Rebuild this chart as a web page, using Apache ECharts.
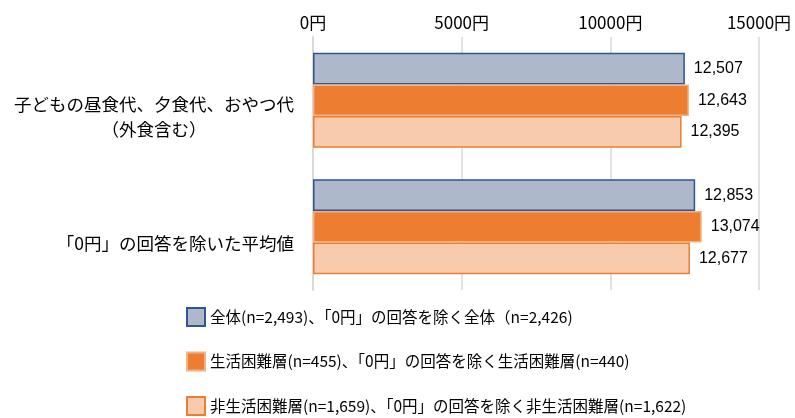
<!DOCTYPE html>
<html>
<head>
<meta charset="utf-8">
<script src="https://cdn.jsdelivr.net/npm/echarts@6/dist/echarts.min.js"></script>
<style>
html,body{margin:0;padding:0;background:#fff;}
#chart{width:795px;height:418px;}
</style>
</head>
<body>
<div id="chart"></div>
<script>
const categories = ['子どもの昼食代、夕食代、おやつ代\n（外食含む）', '「0円」の回答を除いた平均値'];
const seriesNames = [
  '全体(n=2,493)、「0円」の回答を除く全体（n=2,426)',
  '生活困難層(n=455)、「0円」の回答を除く生活困難層(n=440)',
  '非生活困難層(n=1,659)、「0円」の回答を除く非生活困難層(n=1,622)'
];
const allValues = [12507, 12853];
const hardshipValues = [12643, 13074];
const nonHardshipValues = [12395, 12677];
const axisTicks = [0, 5000, 10000, 15000];

const FONT = '"Liberation Sans", "Noto Sans CJK JP", sans-serif';
const CJK = '"Noto Sans CJK JP", sans-serif';
const fmt = v => String(v).replace(/\B(?=(\d{3})+(?!\d))/g, ',');

const fills = ['#ADB9CA', '#ED7D31', '#F8CBAD'];
const borders = ['#2F5597', '#F4B183', '#ED7D31'];
const values = [allValues, hardshipValues, nonHardshipValues];

const chart = echarts.init(document.getElementById('chart'));
chart.setOption({
  animation: false,
  textStyle: {fontFamily: FONT},
  grid: {left: 313, right: 36, top: 37, bottom: 128, containLabel: false},
  legend: {
    orient: 'vertical',
    left: 186,
    top: 306,
    padding: 0,
    itemWidth: 18,
    itemHeight: 18,
    itemGap: 22.5,
    icon: 'rect',
    textStyle: {fontFamily: CJK, fontSize: 15.5, color: '#000', lineHeight: 22},
    data: seriesNames
  },
  xAxis: {
    type: 'value',
    position: 'top',
    min: axisTicks[0],
    max: axisTicks[axisTicks.length - 1],
    interval: 5000,
    axisLine: {show: false},
    axisTick: {show: false},
    axisLabel: {formatter: v => v + '円', fontSize: 17, color: '#000', margin: 6, fontFamily: CJK},
    splitLine: {show: true, lineStyle: {color: '#D9D9D9', width: 1.5}}
  },
  yAxis: {
    type: 'category',
    inverse: true,
    data: categories,
    axisLine: {show: true, lineStyle: {color: '#D9D9D9', width: 2}},
    axisTick: {show: false},
    axisLabel: {
      margin: 19,
      padding: [33, 0, 0, 0],
      formatter: function (v) {
        const parts = v.split('\n');
        if (parts.length > 1) return '{a|' + parts[0] + '}\n{b|' + parts[1] + '}';
        return '{a|' + parts[0] + '}';
      },
      rich: {
        a: {fontFamily: CJK, fontSize: 17.5, color: '#000', lineHeight: 25},
        b: {fontFamily: CJK, fontSize: 17.5, color: '#000', lineHeight: 25, align: 'center'}
      }
    }
  },
  series: seriesNames.map((name, i) => ({
    name: name,
    type: 'bar',
    data: values[i],
    barGap: '0%',
    barCategoryGap: '25%',
    itemStyle: {color: fills[i], borderColor: borders[i], borderWidth: 1.5},
    label: {
      show: true,
      position: 'right',
      distance: 9,
      formatter: p => fmt(p.value),
      fontSize: 16,
      color: '#000',
      fontFamily: FONT
    }
  }))
});
</script>
</body>
</html>
